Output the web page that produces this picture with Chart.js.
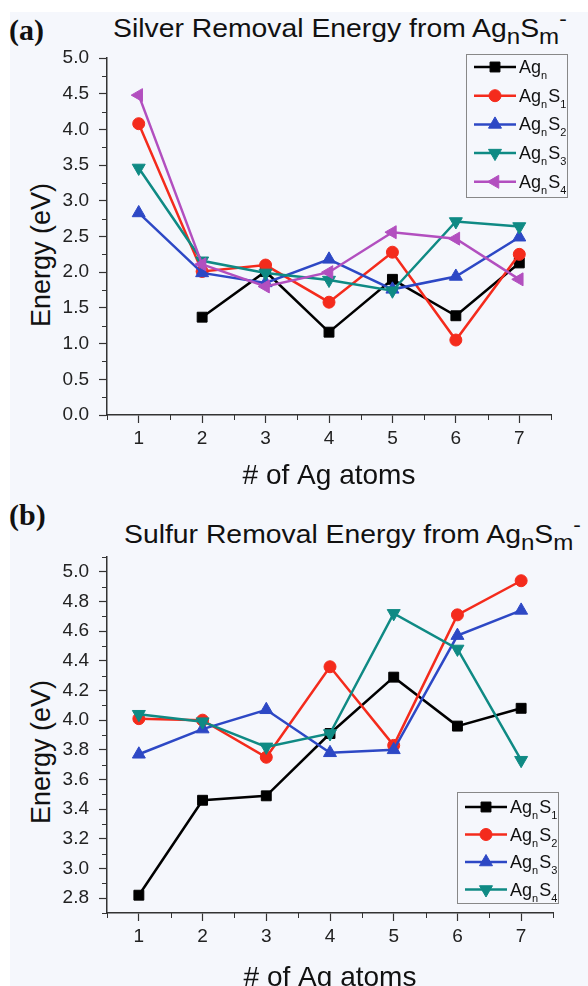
<!DOCTYPE html>
<html>
<head>
  <title>Removal Energy</title>
  <script src="https://cdn.jsdelivr.net/npm/chart.js@4"></script>
  <style>
    body { margin: 0; width: 588px; height: 986px; overflow: hidden; background: #fff; position: relative; font-family: "Liberation Sans", Arial, sans-serif; color: #111; }
    #panel { position: absolute; left: 10px; top: 12px; right: 0; bottom: 0; background: #f5f7fc; }
    canvas { position: absolute; left: 0; }
    .tag { position: absolute; left: 9px; font: bold 30px "Liberation Serif", serif; }
    .title { position: absolute; font-size: 26px; white-space: nowrap; transform: scaleX(1.09); transform-origin: left top; }
    .title sub { font-size: 0.85em; vertical-align: -0.3em; }
    .title sup { font-size: 0.8em; vertical-align: 0.55em; }
    .ytitle { position: absolute; font-size: 27px; white-space: nowrap; transform: translate(-50%, -50%) rotate(-90deg); }
  </style>
</head>
<body>
  <div id="panel"></div>
  <div class="tag" style="top:13px">(a)</div>
  <div class="title" style="left:113px; top:7px">Silver Removal Energy from Ag<sub>n</sub>S<sub>m</sub><sup>-</sup></div>
  <div class="ytitle" style="left:41px; top:255px">Energy (eV)</div>
  <canvas id="silver" width="588" height="493" style="top:0"></canvas>

  <div class="tag" style="top:498px">(b)</div>
  <div class="title" style="left:124px; top:513px">Sulfur Removal Energy from Ag<sub>n</sub>S<sub>m</sub><sup>-</sup></div>
  <div class="ytitle" style="left:41px; top:752px">Energy (eV)</div>
  <canvas id="sulfur" width="588" height="510" style="top:493px"></canvas>

  <script>
    const atoms = [1, 2, 3, 4, 5, 6, 7];
    const xTicks = [1, 2, 3, 4, 5, 6, 7];
    const silverTicks = [0.0, 0.5, 1.0, 1.5, 2.0, 2.5, 3.0, 3.5, 4.0, 4.5, 5.0];
    const sulfurTicks = [2.8, 3.0, 3.2, 3.4, 3.6, 3.8, 4.0, 4.2, 4.4, 4.6, 4.8, 5.0];

    // (a) silver removal energy
    const silverNames = ['Ag_n', 'Ag_nS_1', 'Ag_nS_2', 'Ag_nS_3', 'Ag_nS_4'];
    const silverAgn = [null, 1.37, 2.01, 1.16, 1.90, 1.39, 2.13];
    const silverS1 = [4.08, 2.01, 2.10, 1.58, 2.28, 1.05, 2.25];
    const silverS2 = [2.83, 1.99, 1.85, 2.18, 1.76, 1.94, 2.49];
    const silverS3 = [3.46, 2.16, 1.99, 1.89, 1.74, 2.71, 2.64];
    const silverS4 = [4.48, 2.11, 1.80, 2.00, 2.56, 2.47, 1.90];

    // (b) sulfur removal energy
    const sulfurNames = ['Ag_nS_1', 'Ag_nS_2', 'Ag_nS_3', 'Ag_nS_4'];
    const sulfurS1 = [2.82, 3.46, 3.49, 3.91, 4.29, 3.96, 4.08];
    const sulfurS2 = [4.01, 4.00, 3.75, 4.36, 3.83, 4.71, 4.94];
    const sulfurS3 = [3.77, 3.94, 4.07, 3.78, 3.80, 4.57, 4.74];
    const sulfurS4 = [4.04, 3.99, 3.82, 3.91, 4.72, 4.48, 3.73];

    const colors = ['#000000', '#f42b1c', '#2d48c5', '#0f8a84', '#b24fbf'];
    const marks = [
      { style: 'rect', rot: 0, r: 7 },
      { style: 'circle', rot: 0, r: 6 },
      { style: 'triangle', rot: 0, r: 7.5 },
      { style: 'triangle', rot: 180, r: 7.5 },
      { style: 'triangle', rot: -90, r: 7.5 }
    ];
    const axisColor = '#333';
    const tickFont = { family: 'Liberation Sans', size: 19 };

    function makeSets(names, series, colorIdx) {
      return series.map((vals, i) => {
        const c = colors[colorIdx[i]], m = marks[colorIdx[i]];
        return {
          label: names[i],
          data: atoms.map((x, j) => ({ x: x, y: vals[j] })),
          borderColor: c,
          backgroundColor: c,
          borderWidth: 2.5,
          pointStyle: m.style,
          pointRotation: m.rot,
          pointRadius: m.r,
          pointBorderWidth: 1,
          order: series.length - i
        };
      });
    }

    // legend with subscripts drawn on the canvas
    const subLegend = {
      id: 'subLegend',
      afterDraw(chart, args, o) {
        const ctx = chart.ctx;
        ctx.save();
        ctx.strokeStyle = '#888';
        ctx.lineWidth = 1;
        ctx.strokeRect(o.x + 0.5, o.y + 0.5, o.w, o.h);
        chart.data.datasets.forEach((ds, i) => {
          const cy = o.y + o.first + i * o.gap;
          ctx.strokeStyle = ds.borderColor;
          ctx.fillStyle = ds.backgroundColor;
          ctx.lineWidth = 2.5;
          ctx.beginPath();
          ctx.moveTo(o.x + 8, cy);
          ctx.lineTo(o.x + 50, cy);
          ctx.stroke();
          ctx.lineWidth = 1;
          Chart.helpers.drawPoint(ctx, { pointStyle: ds.pointStyle, rotation: ds.pointRotation, radius: ds.pointRadius, borderWidth: 1 }, o.x + 29, cy);
          let tx = o.x + 53;
          ctx.fillStyle = '#111';
          ctx.textBaseline = 'alphabetic';
          ds.label.split(/(_\w)/).forEach(part => {
            if (!part) return;
            if (part[0] === '_') {
              ctx.font = '11px "Liberation Sans"';
              ctx.fillText(part.slice(1), tx, cy + 12);
              tx += ctx.measureText(part.slice(1)).width + 1;
            } else {
              ctx.font = '18px "Liberation Sans"';
              ctx.fillText(part, tx, cy + 6);
              tx += ctx.measureText(part).width;
            }
          });
        });
        ctx.restore();
      }
    };

    // short ticks between the labelled ones
    const minorTicks = {
      id: 'minorTicks',
      afterDraw(chart, args, o) {
        const ctx = chart.ctx;
        ctx.save();
        ctx.strokeStyle = axisColor;
        ctx.lineWidth = 1;
        ctx.beginPath();
        ['x', 'y'].forEach(id => {
          const s = chart.scales[id];
          for (let k = 0; ; k++) {
            const v = s.min + k * o[id];
            if (v > s.max + 1e-9) break;
            if (s.ticks.some(t => Math.abs(t.value - v) < 1e-6)) continue;
            const p = Math.round(s.getPixelForValue(v)) + 0.5;
            if (id === 'x') { ctx.moveTo(p, s.top); ctx.lineTo(p, s.top + 5); }
            else { ctx.moveTo(s.right, p); ctx.lineTo(s.right - 5, p); }
          }
        });
        ctx.stroke();
        ctx.restore();
      }
    };

    function makeChart(id, sets, yTicks, yMin, yMax, yMinor, pad, xHeight, titlePad, legend) {
      return new Chart(document.getElementById(id).getContext('2d'), {
        type: 'line',
        data: { datasets: sets },
        plugins: [subLegend, minorTicks],
        options: {
          responsive: false,
          animation: false,
          layout: { padding: pad },
          plugins: {
            legend: { display: false },
            tooltip: { enabled: false },
            subLegend: legend,
            minorTicks: { x: 0.5, y: yMinor }
          },
          scales: {
            x: {
              type: 'linear',
              min: 0.5,
              max: 7.5,
              afterBuildTicks: s => { s.ticks = xTicks.map(v => ({ value: v })); },
              afterFit: s => { s.height = xHeight; },
              ticks: { color: '#222', font: tickFont, padding: 4, maxRotation: 0 },
              grid: { drawOnChartArea: false, tickLength: 8, tickColor: axisColor, tickWidth: 1.2 },
              border: { color: axisColor, width: 1.5 },
              title: { display: true, text: '# of Ag atoms', color: '#111', font: { family: 'Liberation Sans', size: 28 }, padding: { top: 0, bottom: titlePad } }
            },
            y: {
              min: yMin,
              max: yMax,
              afterBuildTicks: s => { s.ticks = yTicks.map(v => ({ value: v })); },
              afterFit: s => { s.width = 107 - pad.left; },
              ticks: { color: '#222', font: tickFont, padding: 10, callback: v => v.toFixed(1) },
              grid: { drawOnChartArea: false, tickLength: 8, tickColor: axisColor, tickWidth: 1.2 },
              border: { color: axisColor, width: 1.5 }
            }
          }
        }
      });
    }

    makeChart('silver',
      makeSets(silverNames, [silverAgn, silverS1, silverS2, silverS3, silverS4], [0, 1, 2, 3, 4]),
      silverTicks, 0, 5.0, 0.25,
      { left: 0, top: 58, right: 37, bottom: 0 }, 78, 0,
      { x: 466, y: 54, w: 101, h: 143, first: 13, gap: 28.7 });

    makeChart('sulfur',
      makeSets(sulfurNames, [sulfurS1, sulfurS2, sulfurS3, sulfurS4], [0, 1, 2, 3]),
      sulfurTicks, 2.7, 5.1, 0.1,
      { left: 0, top: 64, right: 35, bottom: 0 }, 90, 8,
      { x: 457, y: 299, w: 101, h: 111, first: 15, gap: 27.5 });
  </script>
</body>
</html>
